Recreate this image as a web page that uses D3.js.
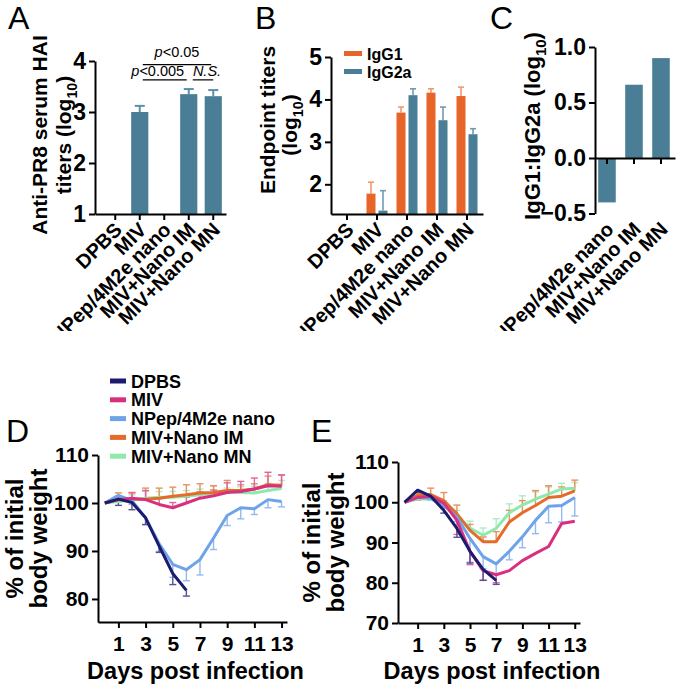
<!DOCTYPE html>
<html>
<head>
<meta charset="utf-8">
<script src="https://cdnjs.cloudflare.com/ajax/libs/d3/7.8.5/d3.min.js"></script>
<style>
  body { margin: 0; background: #fff; }
  svg { display: block; }
</style>
</head>
<body>
<svg width="677" height="687"></svg>
<script>
// groups and values
var groups = ["DPBS", "MIV", "NPep/4M2e nano", "MIV+Nano IM", "MIV+Nano MN"];

// A: HAI titers (log10), null = nothing drawn
var haiMean = [null, 3.0, null, 3.35, 3.31];
var haiErr  = [null, 0.12, null, 0.10, 0.12];

// B: endpoint titers
var igg1    = [null, 1.78, 3.69, 4.16, 4.08];
var igg1Err = [null, 0.27, 0.13, 0.09, 0.21];
var igg2a    = [null, 1.38, 4.10, 3.51, 3.18];
var igg2aErr = [null, 0.47, 0.15, 0.31, 0.13];

// C: IgG1:IgG2a ratio
var ratioGroups = ["NPep/4M2e nano", "MIV+Nano IM", "MIV+Nano MN"];
var ratio = [-0.40, 0.66, 0.90];

// D / E: body weight by day
var days = [0, 1, 2, 3, 4, 5, 6, 7, 8, 9, 10, 11, 12, 13];
var dayTicks = [1, 3, 5, 7, 9, 11, 13];
var seriesNames = ["DPBS", "MIV", "NPep/4M2e nano", "MIV+Nano IM", "MIV+Nano MN"];
var seriesColors = ["#1c1c6e", "#d8307f", "#6ea3ea", "#e36c2b", "#8fe9ab"];

var dDPBS = [100, 100.8, 100.1, 96.9, 91, 85.3, 81.8];
var dDPBSErr = [0, 1.3, 1.5, 1.4, 1.3, 2.3, 1.2];
var dMIV = [100, 100.7, 101, 100.7, 99.7, 99, 100, 101, 101.5, 102.2, 102.4, 102.9, 103.6, 103.5];
var dMIVErr = [0, 0.5, 1.1, 1.9, 1.2, 1.1, 1.2, 1.3, 1.2, 2.0, 2.1, 2.3, 2.8, 2.3];
var dNPep = [100, 101.6, 100.5, 96.9, 91.5, 87.2, 86.1, 88.2, 92.7, 97.4, 99, 98.8, 100.7, 100.3];
var dNPepErr = [0, 0.5, 0.8, 1.4, 1.6, 2.7, 2.3, 3.2, 2.4, 2.1, 2.3, 1.2, 1.7, 1.1];
var dIM = [100, 100.7, 100.8, 100.8, 101, 101.4, 101.7, 102.1, 102.2, 102.6, 102.6, 102.9, 103.8, 103.7];
var dIMErr = [0, 1.4, 1.4, 2.3, 2.1, 1.9, 2.1, 1.9, 1.4, 2.1, 1.2, 1.1, 1.8, 2.2];
var dMN = [100, 100.3, 100.7, 101, 101.2, 101.2, 101.4, 101.7, 102.1, 102.4, 102.2, 102.1, 102.6, 103];
var dMNErr = [0, 0.4, 1.0, 1.4, 1.2, 1.2, 1.2, 1.2, 1.4, 0.7, 1.2, 1.4, 1.5, 1.7];

var eDPBS = [100, 103, 101.5, 98, 93.5, 87.8, 83.3, 80.6];
var eDPBSErr = [0, 0.5, 0.6, 0.7, 2.2, 2.9, 2.7, 1.0];
var eMIV = [100, 101.2, 101.5, 99.8, 95.5, 87.8, 83, 82, 83, 85.5, 87.3, 89, 94.7, 95.3];
var eMIVErr = [0, 0.6, 0.5, 0.8, 3.5, 3.3, 2.4, 2, 0, 0, 0, 0, 0, 0];
var eNPep = [100, 101.2, 101, 99.3, 96.3, 91, 86.5, 84.7, 87.8, 91.4, 95.5, 99, 99.2, 101.2];
var eNPepErr = [0, 0.6, 0.5, 0.8, 1.1, 5.9, 3.0, 2.5, 2.1, 2.7, 3.3, 4.1, 4.1, 4.6];
var eIM = [100, 101.8, 101.9, 100.4, 97.1, 93, 90.2, 90.2, 95.1, 97.4, 99.2, 101.2, 101.5, 102.8];
var eIMErr = [0, 0.5, 1.6, 2, 2.2, 1.5, 1.2, 2.5, 2.9, 3, 3.7, 2.9, 2.3, 2.7];
var eMN = [100, 100.8, 100.8, 99.3, 96.7, 93.6, 91.8, 93.5, 97.4, 99.3, 100.8, 102, 103.3, 103.5];
var eMNErr = [0, 0.4, 0.8, 1.1, 1.3, 1.7, 1.8, 2.4, 2.2, 2.3, 1.8, 1.8, 1.4, 1.4];

var FONT = "'Liberation Sans', Arial, Helvetica, sans-serif";
var blue = "#4a7d96";
var orange = "#e8652a";

var svg = d3.select("svg").style("font-family", FONT);
svg.append("rect").attr("width", 677).attr("height", 687).attr("fill", "#fff");
svg.append("defs").append("clipPath").attr("id", "topclip")
  .append("rect").attr("x", 0).attr("y", 0).attr("width", 677).attr("height", 331);
// the top row of the figure is cropped just under the long labels
var topRow = svg.append("g").attr("clip-path", "url(#topclip)");

function styleAxis(g, fs) {
  g.selectAll("path, line").attr("stroke", "#000").attr("stroke-width", 2);
  g.selectAll("text").attr("font-size", fs).attr("font-weight", "bold")
    .attr("fill", "#000").attr("font-family", FONT);
}

function panelLabel(p, t, x, y) {
  p.append("text").attr("x", x).attr("y", y).attr("font-size", 32)
    .attr("font-family", FONT).text(t);
}

// rotated title with optional (log10) subscript
function vTitle(p, x, y, main, withLog, fs) {
  var t = p.append("text")
    .attr("transform", "translate(" + x + "," + y + ") rotate(-90)")
    .attr("text-anchor", "middle").attr("font-size", fs).attr("font-weight", "bold");
  t.append("tspan").text(main);
  if (withLog) {
    t.append("tspan").text("(log");
    t.append("tspan").attr("font-size", fs * 0.68).attr("dy", fs * 0.28).text("10");
    t.append("tspan").attr("dy", -fs * 0.28).text(")");
  }
  return t;
}

function rotLabels(g, fs) {
  g.selectAll(".tick text")
    .attr("x", 0).attr("y", 0).attr("dy", 0)
    .attr("text-anchor", "end")
    .attr("font-size", fs)
    .attr("transform", "translate(8,17) rotate(-45)");
}

function errBar(g, x, y0, y1, w, color, sw) {
  g.append("line").attr("x1", x).attr("x2", x).attr("y1", y0).attr("y2", y1)
    .attr("stroke", color).attr("stroke-width", sw);
  g.append("line").attr("x1", x - w / 2).attr("x2", x + w / 2).attr("y1", y1).attr("y2", y1)
    .attr("stroke", color).attr("stroke-width", sw);
}

// ---------- A ----------
var yA = d3.scaleLinear().domain([1, 4]).range([214, 61]);
var xA = d3.scaleBand().domain(groups).range([95, 226])
  .paddingInner(0.3).paddingOuter(0.3235).align(0.737);
var gA = topRow.append("g");
groups.forEach(function (g, i) {
  if (haiMean[i] == null) return;
  var cx = xA(g) + xA.bandwidth() / 2;
  errBar(gA, cx, yA(haiMean[i]), yA(haiMean[i] + haiErr[i]), 10, "#5a90aa", 2);
  gA.append("rect").attr("x", xA(g)).attr("width", xA.bandwidth())
    .attr("y", yA(haiMean[i])).attr("height", yA(1) - yA(haiMean[i])).attr("fill", blue);
});
var axA = topRow.append("g").attr("transform", "translate(95,0)")
  .call(d3.axisLeft(yA).tickValues([1, 2, 3, 4]).tickFormat(d3.format("d")).tickSize(6).tickSizeOuter(0));
styleAxis(axA, 23);
var axAx = topRow.append("g").attr("transform", "translate(0,214)")
  .call(d3.axisBottom(xA).tickSize(6).tickSizeOuter(0));
styleAxis(axAx, 20);
rotLabels(axAx, 20);

// significance marks
var sig = [
  {a: "MIV", b: "MIV+Nano MN", level: 3.93, label: "0.05", ns: false, dx: 0},
  {a: "MIV", b: "MIV+Nano IM", level: 3.63, label: "0.005", ns: false, dx: -7},
  {a: "MIV+Nano IM", b: "MIV+Nano MN", level: 3.63, label: "N.S.", ns: true, dx: 4}
];
sig.forEach(function (s) {
  var x1 = xA(s.a) + xA.bandwidth() / 2 + (s.ns ? 4 : 3);
  var x2 = xA(s.b) + xA.bandwidth() / 2 - (s.ns ? 0 : 2);
  topRow.append("line").attr("x1", x1).attr("x2", x2).attr("y1", yA(s.level)).attr("y2", yA(s.level))
    .attr("stroke", "#000").attr("stroke-width", 1.2);
  var t = topRow.append("text").attr("x", (x1 + x2) / 2 + s.dx).attr("y", yA(s.level) - (s.level > 3.8 ? 8 : 4))
    .attr("text-anchor", "middle").attr("font-size", 14.5);
  if (s.ns) {
    t.attr("font-style", "italic").text(s.label);
  } else {
    t.append("tspan").attr("font-style", "italic").text("p");
    t.append("tspan").text("<" + s.label);
  }
});
vTitle(topRow, 47, 135, "Anti-PR8 serum HAI", false, 21);
vTitle(topRow, 71, 135, "titers ", true, 21);
panelLabel(topRow, "A", 8, 29);

// ---------- B ----------
var yB = d3.scaleLinear().domain([1.3, 5]).range([214, 57]);
var xB = d3.scaleBand().domain(groups).range([331, 483])
  .paddingInner(0.3).paddingOuter(0.1833).align(0.5);
var isotypes = ["IgG1", "IgG2a"];
var isoColors = [orange, blue];
var isoErrColors = ["#f09a6a", "#6f9bb2"];
var x1B = d3.scaleBand().domain(isotypes).range([0, xB.bandwidth()]).paddingInner(0.25);
var gB = topRow.append("g");
var isoVals = [igg1, igg2a], isoErrs = [igg1Err, igg2aErr];
groups.forEach(function (g, i) {
  isotypes.forEach(function (iso, k) {
    var v = isoVals[k][i];
    if (v == null) return;
    var bx = xB(g) + x1B(iso);
    errBar(gB, bx + x1B.bandwidth() / 2, yB(v), yB(v + isoErrs[k][i]), 6, isoErrColors[k], 1.6);
    gB.append("rect").attr("x", bx).attr("width", x1B.bandwidth())
      .attr("y", yB(v)).attr("height", yB(1.3) - yB(v)).attr("fill", isoColors[k]);
  });
});
var axB = topRow.append("g").attr("transform", "translate(331,0)")
  .call(d3.axisLeft(yB).tickValues([2, 3, 4, 5]).tickFormat(d3.format("d")).tickSize(6).tickSizeOuter(0));
styleAxis(axB, 23);
var axBx = topRow.append("g").attr("transform", "translate(0,214)")
  .call(d3.axisBottom(xB).tickSize(6).tickSizeOuter(0));
styleAxis(axBx, 20);
rotLabels(axBx, 20);
isotypes.forEach(function (iso, k) {
  var ly = 53.5 + k * 18;
  topRow.append("rect").attr("x", 344).attr("y", ly - 2.5).attr("width", 18).attr("height", 5).attr("fill", isoColors[k]);
  topRow.append("text").attr("x", 367).attr("y", ly + 6).attr("font-size", 16).attr("font-weight", "bold").text(iso);
});
vTitle(topRow, 275, 120, "Endpoint titers", false, 21);
vTitle(topRow, 297, 125, "", true, 21);
panelLabel(topRow, "B", 255, 29);

// ---------- C ----------
var yC = d3.scaleLinear().domain([-0.5, 1.0]).range([213.5, 47]);
var xC = d3.scaleBand().domain(ratioGroups).range([595, 675])
  .paddingInner(0.35).paddingOuter(0.156).align(0.38);
var gC = topRow.append("g");
ratioGroups.forEach(function (g, i) {
  var v = ratio[i];
  gC.append("rect").attr("x", xC(g)).attr("width", xC.bandwidth())
    .attr("y", yC(Math.max(0, v))).attr("height", Math.abs(yC(v) - yC(0))).attr("fill", blue);
});
var axC = topRow.append("g").attr("transform", "translate(595,0)")
  .call(d3.axisLeft(yC).tickValues([-0.5, 0, 0.5, 1.0]).tickFormat(d3.format(".1f")).tickSize(6).tickSizeOuter(0));
styleAxis(axC, 23);
var axCx = topRow.append("g").attr("transform", "translate(0," + yC(0) + ")")
  .call(d3.axisBottom(xC).tickSize(6).tickSizeOuter(0).tickFormat(""));
styleAxis(axCx, 20);
var axCl = topRow.append("g").attr("transform", "translate(0," + yC(-0.5) + ")")
  .call(d3.axisBottom(xC).tickSize(0).tickSizeOuter(0));
axCl.select(".domain").remove();
styleAxis(axCl, 20);
rotLabels(axCl, 20);
vTitle(topRow, 540, 126, "IgG1:IgG2a ", true, 22);
panelLabel(topRow, "C", 490, 29);

// ---------- D / E ----------
function weightPanel(opt) {
  var x = d3.scaleLinear().domain([-0.5, 13.4]).range([opt.x0, opt.x1]);
  var y = d3.scaleLinear().domain(opt.yDomain).range([opt.yBottom, opt.yTop]);
  var g = svg.append("g");
  var line = d3.line().x(function (d) { return x(d.day); }).y(function (d) { return y(d.v); });
  // draw order: MN, IM, NPep, MIV, DPBS on top
  var order = [4, 3, 2, 1, 0];
  var ge = g.append("g").attr("opacity", 0.75);
  order.forEach(function (k) {
    var vals = opt.series[k], errs = opt.errs[k], dir = opt.dirs[k];
    vals.forEach(function (v, i) {
      if (!errs[i]) return;
      errBar(ge, x(days[i]), y(v), y(v + dir * errs[i]), 7, seriesColors[k], 1.4);
    });
  });
  order.forEach(function (k) {
    var pts = opt.series[k].map(function (v, i) { return {day: days[i], v: v}; });
    g.append("path").datum(pts).attr("d", line).attr("fill", "none")
      .attr("stroke", seriesColors[k]).attr("stroke-width", 3).attr("stroke-linejoin", "round");
  });
  var ay = svg.append("g").attr("transform", "translate(" + opt.x0 + ",0)")
    .call(d3.axisLeft(y).tickValues(opt.yTicks).tickSize(6).tickSizeOuter(0));
  styleAxis(ay, 21);
  var ax = svg.append("g").attr("transform", "translate(0," + opt.yBottom + ")")
    .call(d3.axisBottom(x).tickValues(dayTicks).tickSize(6).tickSizeOuter(0));
  styleAxis(ax, 21);
  ax.selectAll(".tick text").attr("dy", "0.95em");
  svg.append("text").attr("x", (opt.x0 + opt.x1) / 2 + 3).attr("y", 679)
    .attr("text-anchor", "middle").attr("font-size", 23.5).attr("font-weight", "bold")
    .text("Days post infection");
  vTitle(svg, opt.titleX, (opt.yTop + opt.yBottom) / 2, "% of initial", false, 24);
  vTitle(svg, opt.titleX + 24, (opt.yTop + opt.yBottom) / 2, "body weight", false, 24);
}

weightPanel({
  x0: 98, x1: 287, yTop: 455, yBottom: 622, yDomain: [75.2, 110], yTicks: [80, 90, 100, 110],
  titleX: 23,
  series: [dDPBS, dMIV, dNPep, dIM, dMN],
  errs: [dDPBSErr, dMIVErr, dNPepErr, dIMErr, dMNErr],
  dirs: [-1, 1, -1, 1, 1]
});
weightPanel({
  x0: 398, x1: 580, yTop: 462, yBottom: 623, yDomain: [70, 110], yTicks: [70, 80, 90, 100, 110],
  titleX: 320,
  series: [eDPBS, eMIV, eNPep, eIM, eMN],
  errs: [eDPBSErr, eMIVErr, eNPepErr, eIMErr, eMNErr],
  dirs: [-1, -1, -1, 1, 1]
});
panelLabel(svg, "D", 6, 442);
panelLabel(svg, "E", 311, 442);

// legend for D/E
seriesNames.forEach(function (n, k) {
  var ly = 381 + k * 18.8;
  svg.append("rect").attr("x", 110).attr("y", ly - 2.5).attr("width", 16).attr("height", 5).attr("fill", seriesColors[k]);
  svg.append("text").attr("x", 131).attr("y", ly + 6.5).attr("font-size", 18).attr("font-weight", "bold").text(n);
});
</script>
</body>
</html>
